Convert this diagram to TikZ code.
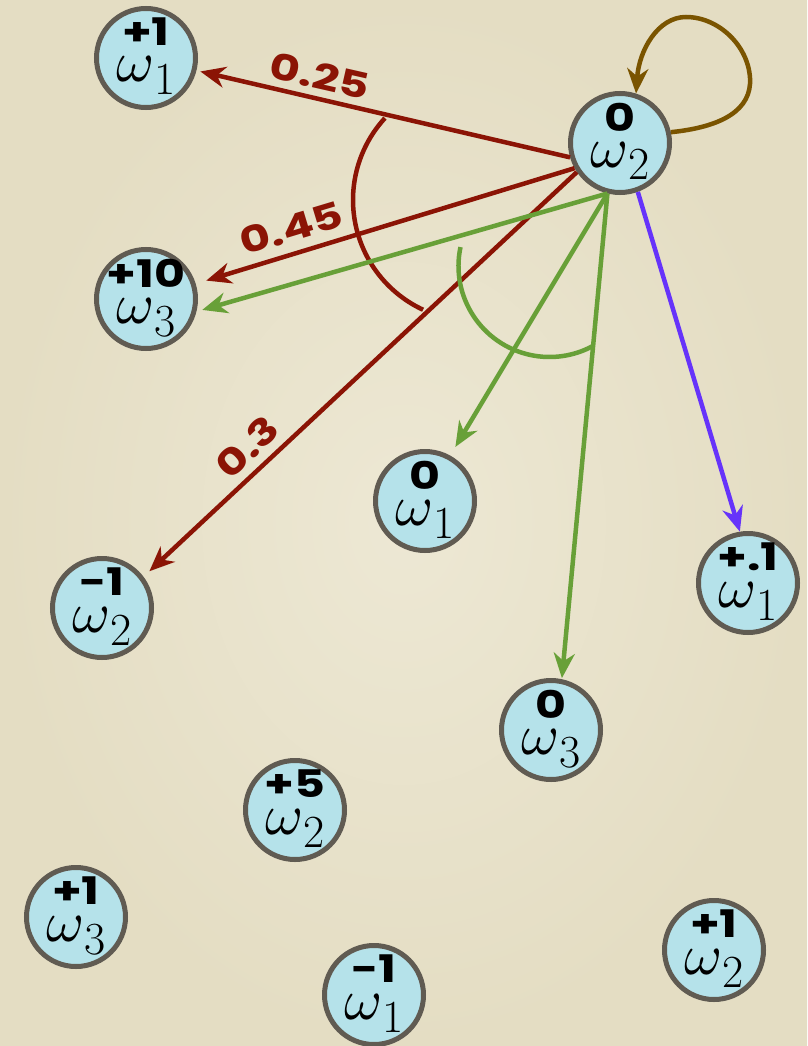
\documentclass[tikz,border=0pt]{standalone}
\usepackage{fontspec}
\usepackage{unicode-math}
\setmathfont{Latin Modern Math}
\newfontfamily\numfont{Poppins}
\usetikzlibrary{arrows.meta}

\definecolor{bgin}{RGB}{237,232,212}
\definecolor{bgout}{RGB}{228,221,195}
\definecolor{nodeblue}{RGB}{181,226,234}
\definecolor{ring}{RGB}{96,91,82}
\definecolor{wred}{RGB}{139,20,5}
\definecolor{wgreen}{RGB}{104,160,56}
\definecolor{wpurple}{RGB}{102,51,250}
\definecolor{wbrown}{RGB}{122,84,0}

\tikzset{
  state/.style={circle, draw=ring, line width=5pt, fill=nodeblue,
    minimum size=99pt, inner sep=0pt},
  numlab/.style={inner sep=0pt, font=\numfont\bfseries\fontsize{38}{38}\selectfont},
  omlab/.style={inner sep=0pt, anchor=base},
  wlab/.style={inner sep=0pt, text=wred, font=\numfont\bfseries\fontsize{36}{36}\selectfont},
  conn/.style={line width=4.5pt, -{Stealth[length=25pt,width=21pt,inset=8pt]}},
  anglemark/.style={line width=4.5pt},
}

% a state: name, x, y (pixels from top), reward, class index
\newcommand{\statenode}[5]{%
  \node[state] (#1) at (#2,-#3) {};
  \node[numlab] (#1-r) at ([yshift=26pt]#1.center) {\scalebox{1.25}[1]{#4}};
  \node[omlab] (#1-w) at ([yshift=-24pt]#1.center)
    {\fontsize{58}{58}\selectfont$\omega$\kern1pt\raisebox{-13pt}{\fontsize{46}{46}\selectfont #5}};
}

\begin{document}
\begin{tikzpicture}[x=1pt, y=1pt]
  \useasboundingbox (0,0) rectangle (807,-1046);
  \fill[bgout] (0,0) rectangle (807,-1046);
  \shade[inner color=bgin, outer color=bgout] (0,0) rectangle (807,-1046);

  \statenode{A}{146}{58}{+1}{1}
  \statenode{B}{620}{143}{0}{2}
  \statenode{C}{146}{299}{+10}{3}
  \statenode{D}{425}{501}{0}{1}
  \statenode{E}{748}{583}{+.1}{1}
  \statenode{F}{102}{608}{-1}{2}
  \statenode{G}{551}{730}{0}{3}
  \statenode{H}{295}{810}{+5}{2}
  \statenode{I}{76}{917}{+1}{3}
  \statenode{J}{374}{995}{-1}{1}
  \statenode{K}{714}{950}{+1}{2}

  % transitions of the red action
  \draw[conn, wred, shorten >=4pt] (B.196) -- (A.346);
  \draw[conn, wred, shorten >=11pt] (B.209) -- (C.17);
  \draw[conn, wred, shorten >=8pt] (B.214) -- (F.37);
  \draw[anglemark, wred] (474,-200) ++(137.4:121) arc[start angle=137.4, end angle=245.1, radius=121];

  \node[wlab, rotate=-12.8] (p1) at (320,-76) {\scalebox{1.3}[1]{0.25}};
  \node[wlab, rotate=16.8] (p2) at (291,-228) {\scalebox{1.3}[1]{0.45}};
  \node[wlab, rotate=43.5] (p3) at (247,-447) {\scalebox{1.3}[1]{0.3}};

  % transitions of the green action
  \draw[conn, wgreen, shorten >=6pt] (B.256) -- (C.-14);
  \draw[conn, wgreen, shorten >=10pt] (B.256) -- (D.61);
  \draw[conn, wgreen, shorten >=1pt] (B.256) -- (G.78);
  \draw[anglemark, wgreen] (549.5,-266) ++(168:91) arc[start angle=168, end angle=298, radius=91];

  % purple action
  \draw[conn, wpurple] (B.290) -- (E.99);

  % brown self loop
  \coordinate (loopR) at (750,-78);
  \coordinate (loopT) at (686,-17);
  \draw[conn, wbrown] (B.12) .. controls (722,-127) and (752,-110) .. (loopR)
    .. controls (748,-45) and (718,-17) .. (loopT)
    .. controls (658,-17) and (639,-50) .. (B.72);
\end{tikzpicture}
\end{document}
